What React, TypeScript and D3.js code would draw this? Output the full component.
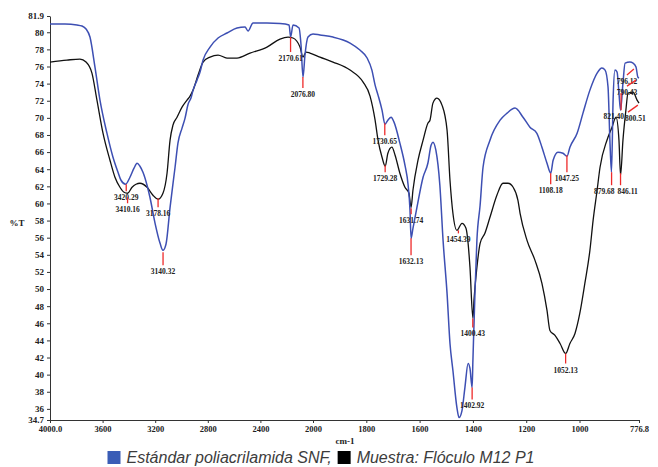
import React, { useEffect, useRef } from "react";
import * as d3 from "d3";

// Estándar poliacrilamida SNF (blue)
const standardWn = [
  4000, 3886, 3795, 3757, 3726, 3696, 3658, 3620, 3567, 3521, 3483, 3460, 3425, 3392, 3361, 3338,
  3316, 3293, 3262, 3240, 3201, 3163, 3141, 3118, 3087, 3049, 3027, 2996, 2973, 2950, 2928, 2912,
  2882, 2859, 2836, 2783, 2722, 2654, 2578, 2517, 2494, 2456, 2350, 2251, 2182, 2170, 2152, 2106,
  2091, 2076, 2061, 2038, 2000, 1974, 1925, 1861, 1824, 1797, 1779, 1767, 1756, 1741, 1730, 1719,
  1707, 1696, 1674, 1655, 1643, 1636, 1632, 1625, 1610, 1587, 1569, 1557, 1550, 1539, 1524, 1512,
  1497, 1486, 1475, 1460, 1452, 1441, 1430, 1418, 1411, 1403, 1400, 1392, 1385, 1373, 1362, 1336,
  1298, 1272, 1242, 1212, 1186, 1160, 1141, 1122, 1108, 1099, 1081, 1062, 1047, 1036, 1009, 987,
  961, 934, 916, 904, 893, 886, 880, 874, 867, 859, 852, 846, 837, 829, 811, 799, 788, 781, 776.8,
];
const standardT = [
  80.96, 80.96, 80.85, 80.73, 80.38, 79.44, 75.93, 72.07, 68.21, 65.4, 63.65, 62.71, 62.25, 63.06, 64.12, 64.7,
  64.35, 63.65, 62.13, 60.72, 57.68, 55.34, 54.52, 55.23, 59.55, 64.23, 67.04, 68.8, 69.97, 71.6, 72.31, 73.24,
  74.41, 75.35, 76.75, 78.27, 79.33, 79.91, 80.5, 80.61, 80.15, 81.08, 81.08, 81.02, 80.85, 79.44, 80.85, 80.5,
  78.5, 74.76, 77.34, 79.44, 79.8, 79.68, 79.44, 78.74, 77.92, 76.99, 75.58, 73.83, 72.66, 70.9, 69.26, 69.73,
  70.08, 69.5, 67.04, 64.47, 62.13, 59.2, 55.93, 57.1, 59.55, 63.06, 64.7, 66.8, 67.16, 66.22, 62.13, 55.7,
  49.49, 43.64, 40.48, 36.15, 34.98, 35.8, 38.49, 41.3, 40.72, 38.49, 41.65, 49.84, 55.7, 59.79, 64.23, 67.39,
  69.73, 70.55, 71.14, 70.08, 68.91, 68.2, 66.57, 64.7, 63.53, 65.05, 65.99, 65.87, 65.52, 66.57, 68.2, 70.55,
  73.24, 75.23, 75.82, 75.58, 73.6, 67.4, 63.65, 72.07, 75.58, 75.35, 72.9, 70.9, 74.06, 76.4, 76.52, 76.4, 75.93, 74.76, 74.65,
];

// Muestra: Flóculo M12 P1 (black)
const sampleWn = [
  4000, 3871, 3772, 3726, 3681, 3643, 3597, 3544, 3506, 3468, 3437, 3410, 3376, 3346, 3316, 3262,
  3217, 3178, 3141, 3110, 3087, 3065, 3034, 2996, 2958, 2935, 2912, 2874, 2836, 2783, 2722, 2654,
  2578, 2479, 2350, 2251, 2190, 2152, 2099, 2076, 2053, 2023, 1974, 1925, 1861, 1812, 1786, 1767,
  1756, 1741, 1729, 1719, 1704, 1692, 1674, 1655, 1640, 1632, 1625, 1606, 1587, 1569, 1561, 1550,
  1535, 1516, 1497, 1486, 1475, 1460, 1441, 1426, 1418, 1411, 1400, 1396, 1385, 1373, 1355, 1336,
  1310, 1287, 1268, 1249, 1231, 1223, 1197, 1167, 1141, 1122, 1111, 1092, 1073, 1052, 1036, 1017,
  999, 980, 961, 949, 934, 923, 897, 878, 863, 852, 846, 837, 826, 818, 799, 784, 776.8,
];
const sampleT = [
  76.52, 76.75, 76.87, 76.52, 75.23, 72.07, 68.21, 65.05, 63.06, 61.89, 61.31, 61.19, 61.89, 62.24, 62.36, 61.89,
  60.96, 60.49, 61.19, 63.53, 67.4, 69.15, 70.08, 71.25, 72.07, 72.54, 73.24, 75.0, 76.52, 77.1, 77.34, 76.99,
  76.99, 77.57, 78.27, 79.21, 79.44, 79.33, 78.27, 77.1, 77.69, 77.57, 77.1, 76.52, 75.58, 74.18, 72.54, 69.73,
  67.4, 65.4, 64.35, 65.87, 66.57, 65.64, 63.53, 61.89, 61.19, 59.55, 61.54, 65.05, 67.39, 69.38, 69.73, 71.72,
  72.31, 71.49, 68.56, 62.71, 58.85, 56.86, 57.68, 57.1, 55.34, 52.53, 46.57, 48.68, 52.53, 55.34, 56.51, 58.38,
  60.96, 62.36, 62.36, 61.89, 60.37, 58.85, 55.69, 53.35, 50.66, 47.5, 45.16, 44.58, 43.64, 42.47, 43.64, 44.81,
  47.15, 50.66, 54.52, 58.03, 61.54, 64.23, 67.39, 68.91, 70.08, 67.4, 63.3, 67.4, 70.9, 72.9, 73.01, 72.07, 71.72,
];

// peak marks: label, wavenumber where the red mark starts / ends, %T where it starts / ends
const peakLabels = [
  "3420.29", "3410.16", "3178.16", "3140.32", "2170.61", "2076.80", "1730.65", "1729.28", "1631.74",
  "1632.13", "1454.39", "1400.43", "1402.92", "1052.13", "1108.18", "1047.25", "879.68", "846.11",
  "796.12", "790.43", "821.40", "800.51",
];
const peakWnFrom = [
  3420.29, 3410.16, 3178.16, 3140.32, 2170.61, 2076.8, 1730.65, 1729.28, 1631.74,
  1632.13, 1454.39, 1400.43, 1402.92, 1052.13, 1108.18, 1047.25, 879.68, 846.11,
  796, 788, 844, 781,
];
const peakWnTo = [
  3420.29, 3410.16, 3178.16, 3140.32, 2170.61, 2076.8, 1730.65, 1729.28, 1631.74,
  1632.13, 1454.39, 1400.43, 1402.92, 1052.13, 1108.18, 1047.25, 879.68, 846.11,
  822, 822, 844, 818,
];
const peakTFrom = [
  62.25, 60.73, 60.61, 54.29, 79.44, 74.77, 69.38, 64.47, 59.44,
  55.93, 56.86, 46.57, 38.5, 42.47, 63.53, 65.64, 63.65, 63.53,
  75.7, 74.41, 72.89, 71.49,
];
const peakTTo = [
  61.43, 60.02, 59.56, 52.77, 77.69, 73.48, 67.98, 63.65, 58.74,
  53.94, 56.5, 45.51, 37.1, 41.3, 62.24, 63.65, 62.13, 62.13,
  75.0, 73.71, 70.9, 70.67,
];
// labels that crowd each other are pushed to one side
const peakAnchor = [
  "middle", "middle", "middle", "middle", "middle", "middle", "middle", "middle", "middle",
  "middle", "middle", "middle", "middle", "middle", "middle", "middle", "end", "start",
  "middle", "middle", "end", "start",
];

const xTicks = [4000, 3600, 3200, 2800, 2400, 2000, 1800, 1600, 1400, 1200, 1000, 776.8];
const yTicks = [
  34.7, 36, 38, 40, 42, 44, 46, 48, 50, 52, 54, 56, 58, 60, 62, 64, 66, 68, 70, 72, 74, 76, 78, 80, 81.9,
];

const seriesNames = ["Estándar poliacrilamida SNF,", "Muestra: Flóculo M12 P1"];
const seriesColors = ["#3d4fb3", "#111111"];
const legendColors = ["#3a5db6", "#000000"];

const App = () => {
  const ref = useRef<SVGSVGElement>(null);

  useEffect(() => {
    const width = 658;
    const height = 467;
    const serif = "'Liberation Serif', 'Times New Roman', serif";

    // FTIR axis: scale changes at 2000 cm-1
    const x = d3.scaleLinear().domain([4000, 2000, 776.8]).range([50, 313, 639]);
    const y = d3.scaleLinear().domain([34.7, 81.9]).range([420, 16]);

    const svg = d3
      .select(ref.current)
      .attr("width", width)
      .attr("height", height)
      .attr("viewBox", [0, 0, width, height]);

    svg.selectAll("*").remove();

    // y axis
    svg
      .append("g")
      .attr("transform", `translate(${x(4000)},0)`)
      .call(
        d3
          .axisLeft(y)
          .tickValues(yTicks)
          .tickSize(3)
          .tickSizeOuter(0)
          .tickFormat((d) => (Number.isInteger(d) ? String(d) : (d as number).toFixed(1)))
      )
      .call((g) => g.selectAll("path, line").attr("stroke", "#333"))
      .call((g) =>
        g
          .selectAll("text")
          .attr("font-family", serif)
          .attr("font-size", 9)
          .attr("font-weight", "bold")
          .attr("fill", "#222")
      );

    // x axis
    svg
      .append("g")
      .attr("transform", `translate(0,${y(34.7)})`)
      .call(
        d3
          .axisBottom(x)
          .tickValues(xTicks)
          .tickSize(3)
          .tickSizeOuter(0)
          .tickFormat((d) => (d === 4000 ? "4000.0" : String(d)))
      )
      .call((g) => g.selectAll("path, line").attr("stroke", "#333"))
      .call((g) =>
        g
          .selectAll("text")
          .attr("font-family", serif)
          .attr("font-size", 8.5)
          .attr("font-weight", "bold")
          .attr("fill", "#222")
      );

    svg
      .append("text")
      .attr("x", 17)
      .attr("y", 226)
      .attr("text-anchor", "middle")
      .attr("font-family", serif)
      .attr("font-size", 9)
      .attr("font-weight", "bold")
      .attr("fill", "#222")
      .text("%T");

    svg
      .append("text")
      .attr("x", 345)
      .attr("y", 444)
      .attr("text-anchor", "middle")
      .attr("font-family", serif)
      .attr("font-size", 9)
      .attr("font-weight", "bold")
      .attr("fill", "#222")
      .text("cm-1");

    // spectra
    const drawSeries = (wn: number[], t: number[], color: string, w: number) => {
      const line = d3
        .line<number>()
        .x((d) => x(d))
        .y((_, i) => y(t[i]))
        .curve(d3.curveMonotoneX);
      svg
        .append("path")
        .datum(wn)
        .attr("fill", "none")
        .attr("stroke", color)
        .attr("stroke-width", w)
        .attr("stroke-linejoin", "round")
        .attr("d", line);
    };
    drawSeries(sampleWn, sampleT, seriesColors[1], 1.3);
    drawSeries(standardWn, standardT, seriesColors[0], 1.5);

    // peak marks
    const peaks = svg.append("g");
    peakLabels.forEach((label, i) => {
      peaks
        .append("line")
        .attr("x1", x(peakWnFrom[i]))
        .attr("x2", x(peakWnTo[i]))
        .attr("y1", y(peakTFrom[i]))
        .attr("y2", y(peakTTo[i]))
        .attr("stroke", "#ee2a2a")
        .attr("stroke-width", 1.3);
      const nudge = peakAnchor[i] === "end" ? 3 : peakAnchor[i] === "start" ? -3 : 0;
      peaks
        .append("text")
        .attr("x", x(peakWnTo[i]) + nudge)
        .attr("y", y(peakTTo[i]) + 9)
        .attr("text-anchor", peakAnchor[i])
        .attr("font-family", serif)
        .attr("font-size", 7.5)
        .attr("font-weight", "bold")
        .attr("fill", "#222")
        .text(label);
    });

    // legend
    const legend = svg.append("g");
    let cx = 0;
    seriesNames.forEach((name, i) => {
      legend
        .append("rect")
        .attr("x", cx)
        .attr("y", -12)
        .attr("width", 13)
        .attr("height", 13)
        .attr("fill", legendColors[i]);
      cx += 19;
      const txt = legend
        .append("text")
        .attr("x", cx)
        .attr("y", 0)
        .attr("font-family", "'Liberation Sans', Arial, sans-serif")
        .attr("font-style", "italic")
        .attr("font-size", 16)
        .attr("fill", "#3c3c3c")
        .text(name);
      cx += (txt.node() as SVGTextElement).getComputedTextLength() + 6;
    });
    legend.attr("transform", `translate(${321 - (cx - 6) / 2},463)`);
  }, []);

  return (
    <svg
      ref={ref}
      style={{ position: "absolute", left: 0, top: 0, display: "block", background: "#fff" }}
    ></svg>
  );
};

export default App;
